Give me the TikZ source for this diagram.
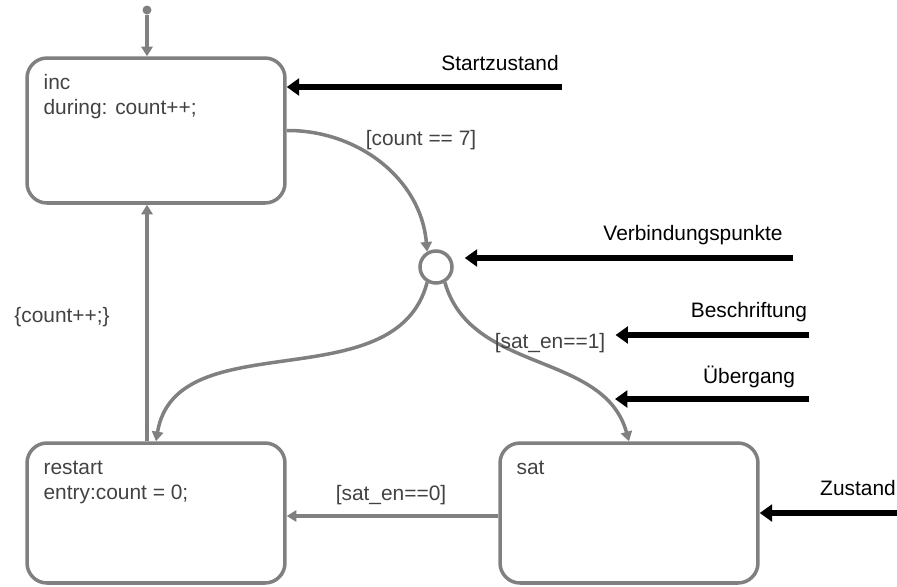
\documentclass[tikz,border=0pt]{standalone}
\usepackage{fontspec}
\setmainfont{Liberation Sans}
\usetikzlibrary{arrows.meta,positioning}

\definecolor{edgegray}{HTML}{808080}
\definecolor{textgray}{HTML}{424242}

\begin{document}
\begin{tikzpicture}[
    x=0.02cm, y=-0.02cm,
    >={Triangle[length=5.5pt,width=6.4pt]},
    state/.style={draw=edgegray, line width=2pt, rounded corners=0.4cm,
                  minimum width=5.16cm, minimum height=2.8cm, inner sep=0pt},
    stext/.style={anchor=north west, align=left, inner sep=0pt, text=textgray,
                  font=\fontsize{11.9}{14.2}\selectfont},
    guard/.style={inner sep=0pt, text=textgray, font=\fontsize{11.9}{14.2}\selectfont},
    tr/.style={->, draw=edgegray, line width=2pt},
    note/.style={inner sep=0pt, font=\fontsize{11.9}{14.2}\selectfont},
    notearr/.style={-{Triangle[length=7pt,width=9.5pt]}, line width=2.9pt},
  ]
  \useasboundingbox (0,0) rectangle (897,586);

  % states and junction
  \node[state, minimum height=2.9cm] (inc) at (156,130.5) {};
  \node[state] (restart) at (156,513) {};
  \node[state] (sat) at (629,513) {};
  \node[circle, draw=edgegray, line width=2pt, minimum size=0.64cm, inner sep=0pt] (junc) at (436,267) {};
  \node[circle, fill=edgegray, minimum size=0.18cm, inner sep=0pt] (init) at (147,10) {};

  \node[stext] (incTxt) at ([xshift=0.36cm,yshift=-0.36cm]inc.north west) {inc\\during: count++;};
  \node[stext] (restartTxt) at ([xshift=0.36cm,yshift=-0.38cm]restart.north west) {restart\\entry:count = 0;};
  \node[stext] (satTxt) at ([xshift=0.36cm,yshift=-0.38cm]sat.north west) {sat};

  % transitions
  \draw[tr] (init) -- (init |- inc.north);
  \draw[tr] (inc.east) .. controls (358,130) and (421,179) .. (junc.120);
  \draw[tr] (junc.240) .. controls (396,402) and (176,321) .. (restart.north);
  \draw[tr] (junc.300) .. controls (471,374) and (604,351) .. (sat.north);
  \draw[tr] ([yshift=-0.06cm]sat.west) -- ([yshift=-0.06cm]restart.east);
  \draw[tr] (restart.north -| init) -- (inc.south -| init);

  \node[guard] (g7) at (421,140) {[count == 7]};
  \node[guard] (g1) at (550,343) {[sat\_en==1]};
  \node[guard] (g0) at (391,495) {[sat\_en==0]};
  \node[guard] (act) at (62,317) {\{count++;\}};

  % annotations
  \node[note] (nStart) at (500,63) {Startzustand};
  \node[note] (nJunc) at (693,235) {Verbindungspunkte};
  \node[note] (nLabel) at (749,312) {Beschriftung};
  \node[note] (nTrans) at (749,377) {Übergang};
  \node[note] (nState) at (858,488) {Zustand};

  \coordinate (aStart) at (562,87);
  \coordinate (aJunc) at (793,258);
  \coordinate (aLabel) at (809,335);
  \coordinate (aTrans) at (809,399);
  \coordinate (onTrans) at (615,399);
  \coordinate (aState) at (897,513);

  \draw[notearr] (aStart) -- (aStart -| inc.east);
  \draw[notearr, shorten >=0.22cm] (aJunc) -- (aJunc -| junc.east);
  \draw[notearr, shorten >=0.2cm] (aLabel) -- (aLabel -| g1.east);
  \draw[notearr] (aTrans) -- (onTrans);
  \draw[notearr] (aState) -- (aState -| sat.east);
\end{tikzpicture}
\end{document}
